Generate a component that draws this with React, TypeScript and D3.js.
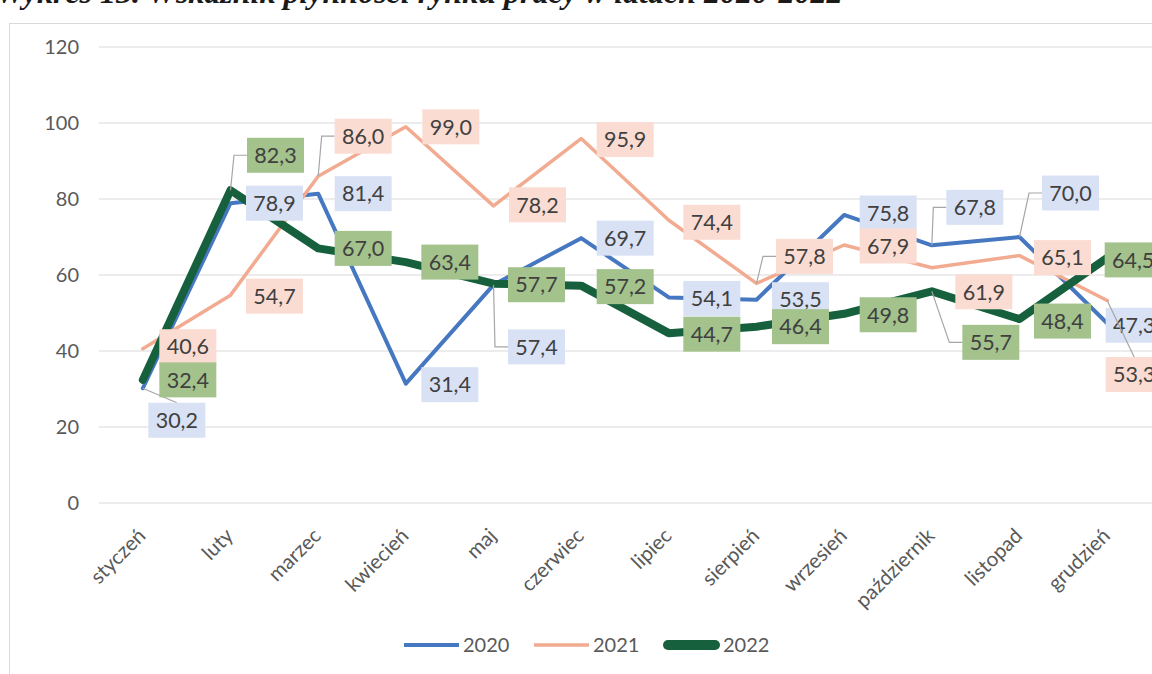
import * as React from 'react'
import { useEffect, useRef } from 'react'
import * as d3 from 'd3'

const months = ['styczeń', 'luty', 'marzec', 'kwiecień', 'maj', 'czerwiec', 'lipiec', 'sierpień', 'wrzesień', 'październik', 'listopad', 'grudzień']
const values2020 = [30.2, 78.9, 81.4, 31.4, 57.4, 69.7, 54.1, 53.5, 75.8, 67.8, 70.0, 47.3]
const values2021 = [40.6, 54.7, 86.0, 99.0, 78.2, 95.9, 74.4, 57.8, 67.9, 61.9, 65.1, 53.3]
const values2022 = [32.4, 82.3, 67.0, 63.4, 57.7, 57.2, 44.7, 46.4, 49.8, 55.7, 48.4, 64.5]
const yTicks = [0, 20, 40, 60, 80, 100, 120]
const seriesNames = ['2020', '2021', '2022']

// manual label placement (px from the point), like the hand-moved Excel labels
const shift2020 = [[34, 32], [44, 0], [45, 0], [44, 1], [43, 62], [44, 0], [43, 1], [44, 0], [44, -2], [43, -38], [51, -44], [27, 2]]
const shift2021 = [[45, -2], [44, 1], [45, -40], [45, 0], [44, -1], [44, 1], [43, 2], [48, -27], [44, 1], [52, 24], [43, 2], [27, 74]]
const shift2022 = [[45, 0], [45, -35], [45, 0], [44, 0], [43, 1], [44, 1], [43, 1], [44, 0], [44, 1], [59, 51], [43, 2], [26, 2]]

const W = 1152
const H = 674

export default function App() {
  const svgRef = useRef<SVGSVGElement>(null)

  useEffect(() => {
    if (!svgRef.current) return
    const svg = d3.select(svgRef.current)
    svg.selectAll('*').remove()

    const font = 'Lato, "Open Sans", sans-serif'

    const series = [
      { name: seriesNames[0], values: values2020, shift: shift2020, color: '#4677c1', width: 4, box: '#d9e1f5' },
      { name: seriesNames[1], values: values2021, shift: shift2021, color: '#f2ab91', width: 3.5, box: '#fbdcd2' },
      { name: seriesNames[2], values: values2022, shift: shift2022, color: '#17603d', width: 8, box: '#a3c28c' },
    ]

    const x = d3.scaleBand().domain(months).range([99, 1151]).padding(0)
    const cx = (m: string) => x(m)! + x.bandwidth() / 2
    const y = d3.scaleLinear().domain([0, 120]).range([503, 47])

    // title, cut off at the top of the scan
    svg.append('text')
      .attr('x', -4)
      .attr('y', 3)
      .attr('font-family', '"Liberation Serif", serif')
      .attr('font-style', 'italic')
      .attr('font-weight', 'bold')
      .attr('font-size', '32px')
      .attr('fill', '#1a1a1a')
      .text('Wykres 13. Wskaźnik płynności rynku pracy w latach 2020-2022')

    // chart frame
    svg.append('rect')
      .attr('x', 9.5)
      .attr('y', 23.5)
      .attr('width', W)
      .attr('height', H)
      .attr('fill', 'none')
      .attr('stroke', '#d9d9d9')

    // grid + y labels
    yTicks.forEach(t => {
      svg.append('line')
        .attr('x1', 99)
        .attr('x2', W)
        .attr('y1', y(t))
        .attr('y2', y(t))
        .attr('stroke', '#d9d9d9')
        .attr('stroke-width', 1.2)
      svg.append('text')
        .attr('x', 79)
        .attr('y', y(t))
        .attr('dy', '0.35em')
        .attr('text-anchor', 'end')
        .attr('font-family', font)
        .attr('font-size', '20px')
        .attr('fill', '#595959')
        .text(t)
    })

    // x labels
    months.forEach(m => {
      svg.append('text')
        .attr('transform', `translate(${cx(m) - 1}, 532) rotate(-45)`)
        .attr('text-anchor', 'end')
        .attr('dy', '0.35em')
        .attr('font-family', font)
        .attr('font-size', '20.5px')
        .attr('fill', '#595959')
        .text(m)
    })

    // lines
    const line = d3.line<number>()
      .x((_, i) => cx(months[i]))
      .y(d => y(d))

    series.forEach(s => {
      svg.append('path')
        .attr('d', line(s.values))
        .attr('fill', 'none')
        .attr('stroke', s.color)
        .attr('stroke-width', s.width)
        .attr('stroke-linejoin', 'round')
        .attr('stroke-linecap', 'round')
    })

    // data labels
    const bw = 57
    const bh = 35
    series.forEach(s => {
      s.values.forEach((v, i) => {
        const px = cx(months[i])
        const py = y(v)
        const [dx, dy] = s.shift[i]
        const lx = px + dx
        const ly = py + dy
        const left = lx - bw / 2

        if (Math.abs(dy) > 25) {
          let pts: [number, number][]
          if (left - px > 8) {
            pts = [[px, py], [left - 13, ly], [left, ly]]
          } else {
            pts = [[px, py], [lx, dy > 0 ? ly - bh / 2 : ly + bh / 2]]
          }
          svg.append('path')
            .attr('d', d3.line()(pts))
            .attr('fill', 'none')
            .attr('stroke', '#a6a6a6')
            .attr('stroke-width', 1.2)
        }

        svg.append('rect')
          .attr('x', left)
          .attr('y', ly - bh / 2)
          .attr('width', bw)
          .attr('height', bh)
          .attr('fill', s.box)

        svg.append('text')
          .attr('x', lx)
          .attr('y', ly)
          .attr('dy', '0.36em')
          .attr('text-anchor', 'middle')
          .attr('font-family', font)
          .attr('font-size', '21.5px')
          .attr('fill', '#404040')
          .text(v.toFixed(1).replace('.', ','))
      })
    })

    // legend
    const legend = svg.append('g').attr('transform', 'translate(404, 645)')
    series.forEach((s, i) => {
      const g = legend.append('g').attr('transform', `translate(${i * 130}, 0)`)
      g.append('line')
        .attr('x1', i === 2 ? 4 : 0)
        .attr('x2', i === 2 ? 51 : 55)
        .attr('y1', 0)
        .attr('y2', 0)
        .attr('stroke', s.color)
        .attr('stroke-width', i === 2 ? 10 : s.width)
        .attr('stroke-linecap', i === 2 ? 'round' : 'butt')
      g.append('text')
        .attr('x', 59)
        .attr('y', 0)
        .attr('dy', '0.35em')
        .attr('font-family', font)
        .attr('font-size', '20px')
        .attr('fill', '#595959')
        .text(s.name)
    })
  }, [])

  return (
    <svg
      ref={svgRef}
      width={W}
      height={H}
      style={{ position: 'absolute', left: 0, top: 0, background: '#fff', display: 'block' }}
    />
  )
}
